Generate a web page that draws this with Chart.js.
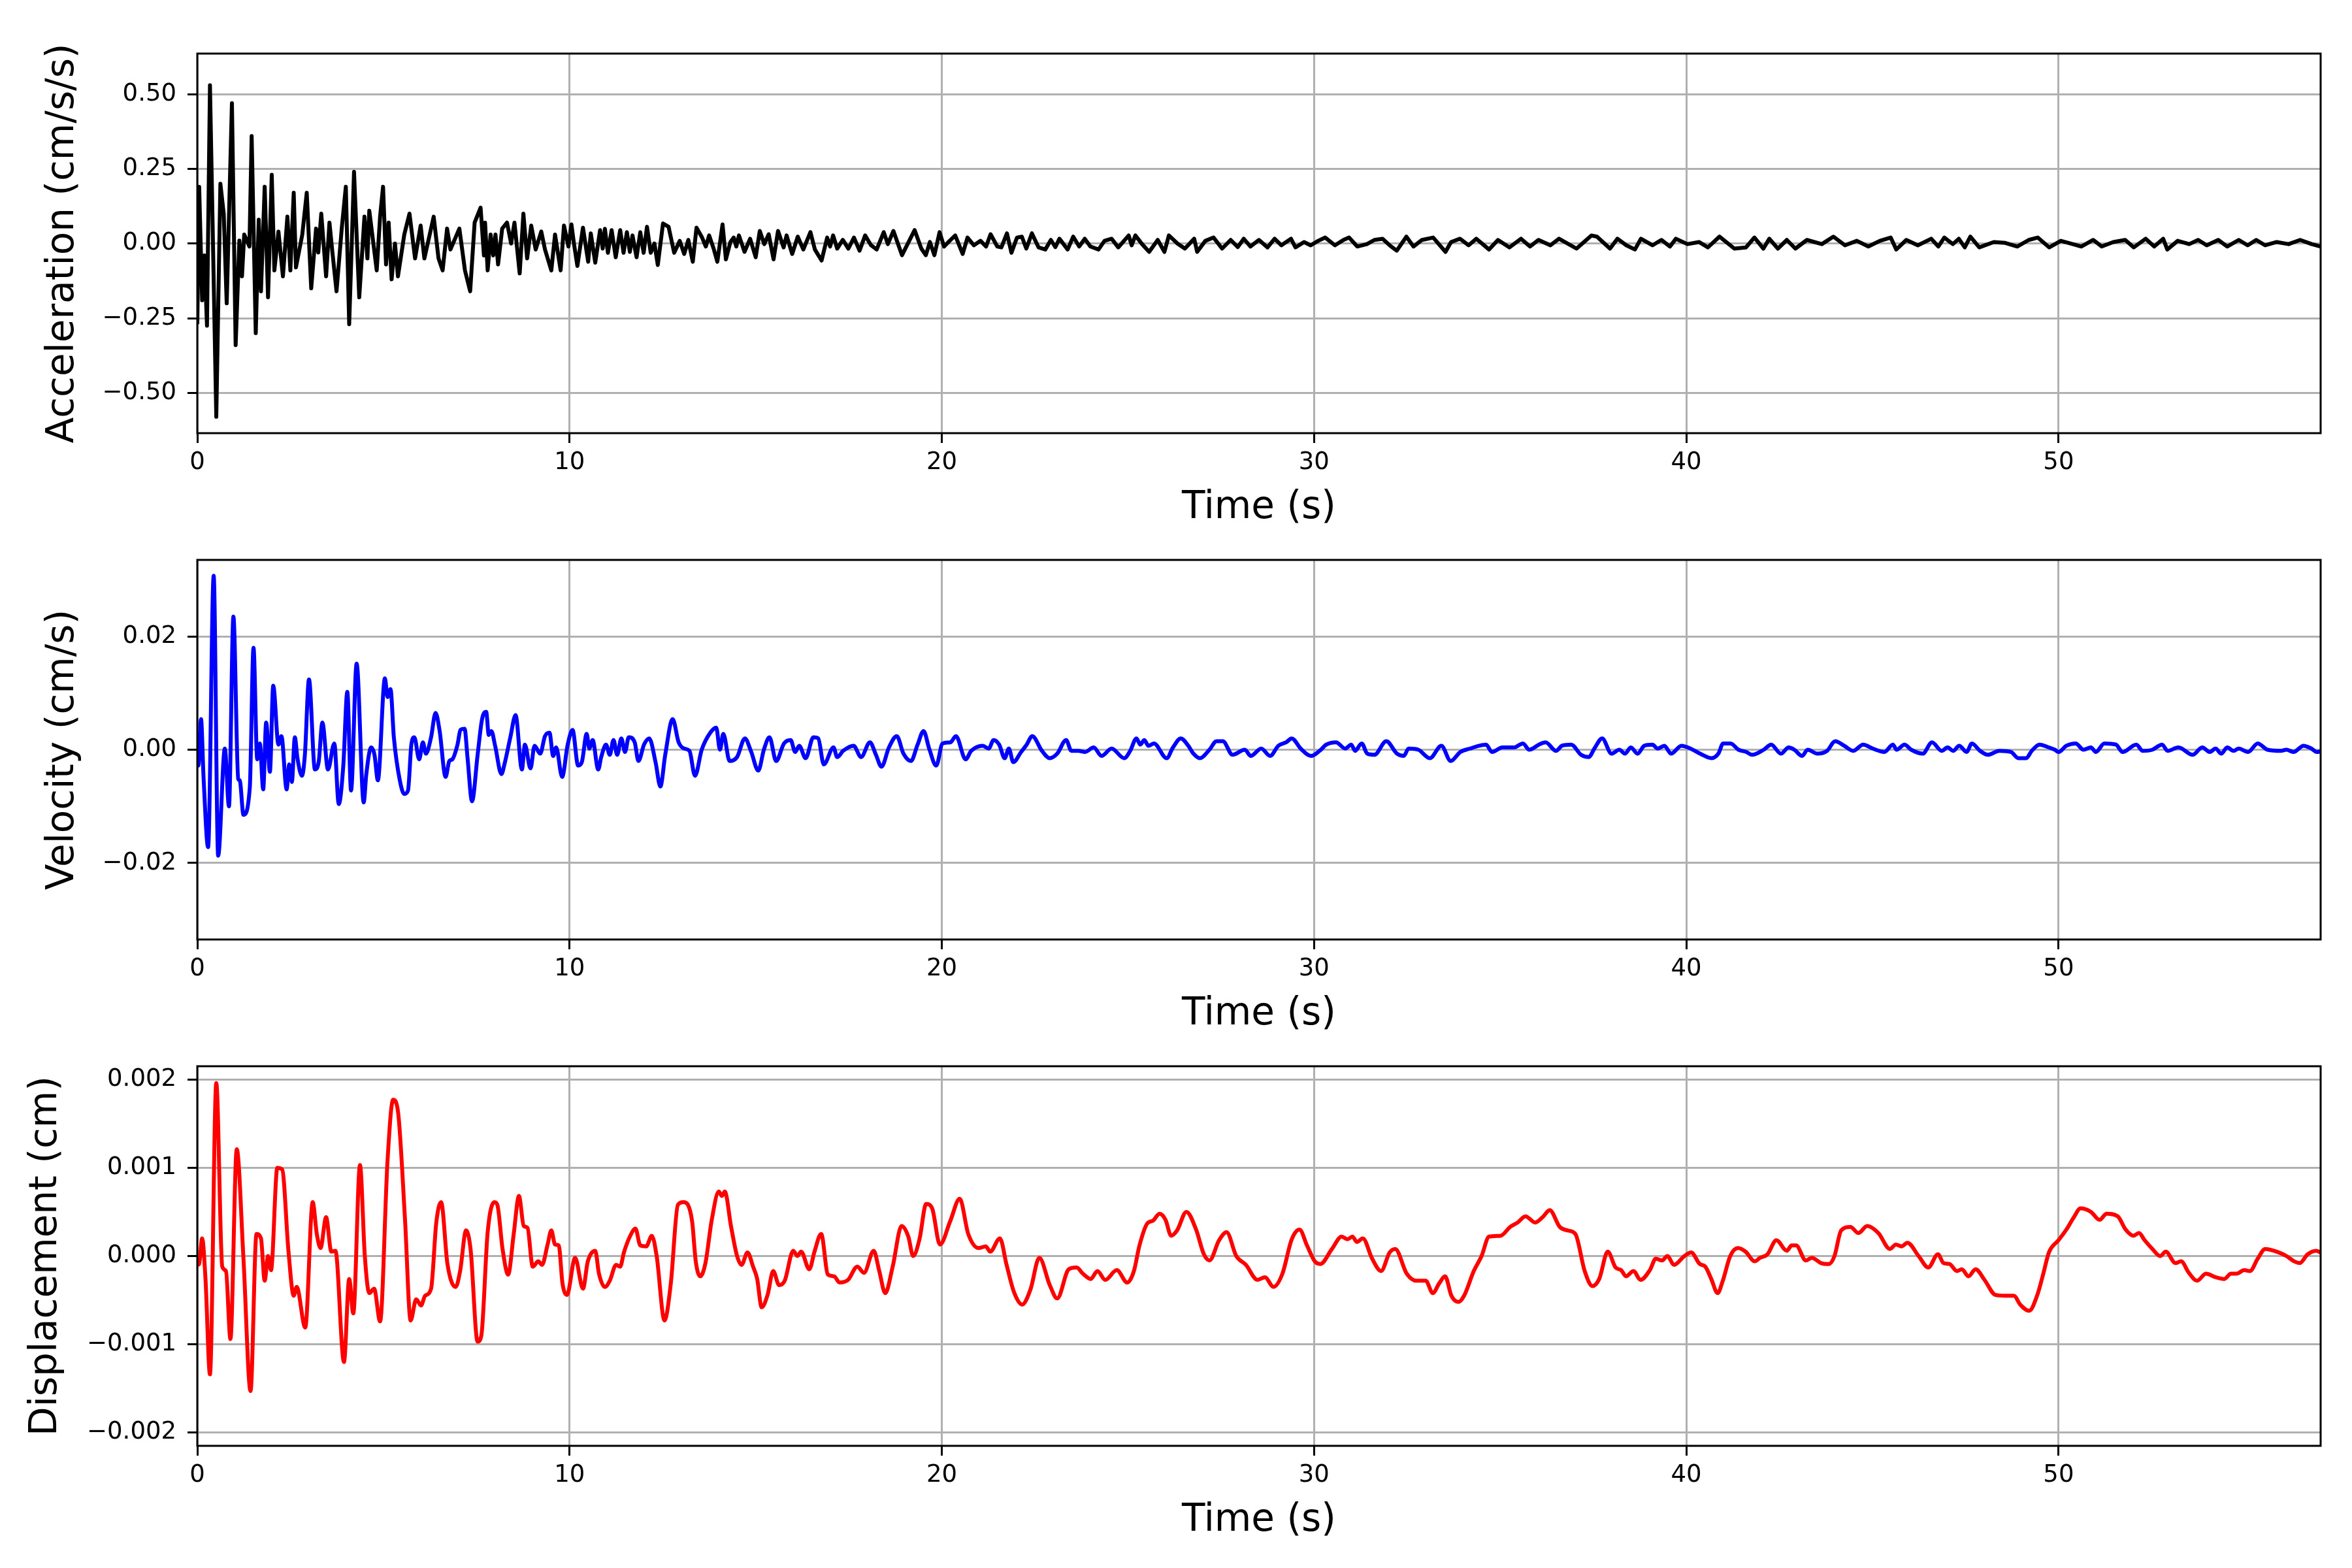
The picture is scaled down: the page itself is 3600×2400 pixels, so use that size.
<!DOCTYPE html>
<html>
<head>
<meta charset="utf-8">
<title>Acceleration / Velocity / Displacement</title>
<script src="https://cdn.jsdelivr.net/npm/chart.js@4.4.1/dist/chart.umd.min.js"></script>
<style>
  html, body { margin: 0; padding: 0; background: #fff; }
  #page { position: relative; width: 3600px; height: 2400px; background: #fff; overflow: hidden; }
  canvas { position: absolute; left: 0; width: 3600px; height: 813px; }
</style>
</head>
<body>
<div id="page">
  <canvas id="accChart" width="3600" height="813" style="top:0px"></canvas>
  <canvas id="velChart" width="3600" height="813" style="top:775px"></canvas>
  <canvas id="dispChart" width="3600" height="813" style="top:1550px"></canvas>
</div>
<script>
// time (s), value pairs
const accPoints = [
  [0.00,-0.27],[0.05,0.19],[0.13,-0.19],[0.19,-0.04],[0.26,-0.275],[0.34,0.53],[0.51,-0.58],[0.62,0.20],
  [0.71,0.10],[0.79,-0.20],[0.93,0.47],[1.03,-0.34],[1.13,0.01],[1.20,-0.11],[1.26,0.03],[1.40,-0.01],
  [1.46,0.36],[1.57,-0.30],[1.65,0.08],[1.71,-0.16],[1.81,0.19],[1.90,-0.18],[2.00,0.23],[2.07,-0.09],
  [2.18,0.04],[2.30,-0.11],[2.42,0.09],[2.50,-0.09],[2.59,0.17],[2.65,-0.08],[2.82,0.03],[2.94,0.17],
  [3.06,-0.15],[3.19,0.05],[3.25,-0.03],[3.33,0.10],[3.46,-0.11],[3.55,0.07],[3.63,-0.03],[3.74,-0.16],
  [3.88,0.05],[3.99,0.19],[4.08,-0.27],[4.21,0.24],[4.35,-0.18],[4.49,0.09],[4.57,-0.05],[4.62,0.11],
  [4.82,-0.09],[4.91,0.09],[4.99,0.19],[5.07,-0.07],[5.14,0.07],[5.22,-0.12],[5.31,0.00],[5.39,-0.11],
  [5.56,0.03],[5.70,0.10],[5.85,-0.05],[6.00,0.06],[6.10,-0.05],[6.35,0.09],[6.48,-0.05],[6.59,-0.09],
  [6.71,0.05],[6.80,-0.02],[7.04,0.05],[7.19,-0.09],[7.33,-0.16],[7.45,0.07],[7.61,0.12],[7.70,-0.04],
  [7.73,0.07],[7.80,-0.09],[7.88,0.03],[7.95,-0.04],[8.01,0.03],[8.08,-0.07],[8.19,0.05],[8.32,0.07],
  [8.43,0.00],[8.52,0.07],[8.66,-0.10],[8.76,0.10],[8.86,-0.05],[8.97,0.06],[9.09,-0.02],[9.24,0.04],
  [9.34,-0.02],[9.51,-0.09],[9.61,0.03],[9.76,-0.09],[9.85,0.06],[9.97,-0.01],
  [10.05,0.064],[10.12,-0.002],[10.21,-0.075],[10.36,0.053],[10.50,-0.061],[10.57,0.034],[10.69,-0.064],
  [10.82,0.045],[10.89,-0.017],[10.95,0.049],[11.03,-0.031],[11.13,0.045],[11.24,-0.046],[11.36,0.045],
  [11.45,-0.031],[11.54,0.038],[11.62,-0.028],[11.69,0.027],[11.80,-0.046],[11.90,0.038],[11.99,-0.031],
  [12.08,0.056],[12.18,-0.031],[12.28,0.0],[12.37,-0.072],[12.51,0.067],[12.66,0.056],[12.81,-0.031],
  [12.96,0.009],[13.08,-0.035],[13.19,0.012],[13.31,-0.061],[13.41,0.053],[13.56,0.02],[13.66,-0.01],
  [13.75,0.027],[13.87,-0.017],[13.97,-0.061],[14.11,0.064],[14.20,-0.053],[14.32,0.005],[14.41,0.02],
  [14.48,-0.01],[14.55,0.027],[14.70,-0.028],[14.85,0.016],[15.00,-0.046],[15.11,0.042],[15.23,-0.002],
  [15.35,0.031],[15.48,-0.053],[15.60,0.042],[15.75,-0.013],[15.83,0.027],[15.98,-0.035],[16.13,0.023],
  [16.28,-0.02],[16.47,0.038],[16.59,-0.02],[16.77,-0.057],[16.92,0.02],[17.00,-0.01],[17.08,0.027],
  [17.19,-0.017],[17.34,0.012],[17.49,-0.017],[17.64,0.02],[17.79,-0.024],[17.94,0.027],[18.10,-0.006],
  [18.25,-0.02],[18.44,0.038],[18.55,-0.002],[18.70,0.042],[18.93,-0.039],[19.08,-0.002],[19.27,0.045],
  [19.45,-0.017],[19.57,-0.039],[19.68,0.005],[19.80,-0.039],[19.94,0.038],[20.06,-0.01],[20.21,0.009],
  [20.36,0.027],[20.56,-0.035],[20.69,0.02],[20.86,-0.006],[21.04,0.009],[21.19,-0.01],[21.31,0.031],
  [21.49,-0.01],[21.60,-0.013],[21.75,0.034],[21.87,-0.031],[22.02,0.02],[22.15,0.023],[22.27,-0.017],
  [22.42,0.034],[22.60,-0.013],[22.78,-0.02],[22.93,0.012],[23.05,-0.012],[23.16,0.016],[23.38,-0.02],
  [23.53,0.023],[23.69,-0.01],[23.84,0.016],[23.99,-0.01],[24.21,-0.02],[24.37,0.009],[24.56,0.016],
  [24.74,-0.013],[25.02,0.027],[25.10,-0.006],[25.20,0.027],[25.38,-0.002],[25.57,-0.028],[25.80,0.012],
  [25.98,-0.028],[26.10,0.027],[26.33,0.0],[26.53,-0.017],[26.78,0.016],[26.86,-0.028],[27.08,0.009],
  [27.30,0.02],[27.53,-0.017],[27.76,0.012],[27.95,-0.012],[28.11,0.016],[28.29,-0.01],[28.52,0.012],
  [28.75,-0.013],[28.94,0.016],[29.12,-0.006],[29.38,0.016],[29.50,-0.013],[29.73,0.005],[29.91,-0.006],
  [30.11,0.009],[30.30,0.02],[30.56,-0.006],[30.79,0.012],[30.94,0.02],[31.16,-0.01],[31.42,-0.002],
  [31.62,0.012],[31.84,0.016],[32.05,-0.008],[32.22,-0.024],[32.48,0.023],[32.67,-0.01],[32.90,0.012],
  [33.20,0.02],[33.53,-0.028],[33.68,0.005],[33.92,0.016],[34.15,-0.006],[34.36,0.016],[34.70,-0.02],
  [34.94,0.012],[35.25,-0.013],[35.56,0.016],[35.80,-0.01],[36.03,0.012],[36.35,-0.006],[36.58,0.016],
  [37.05,-0.017],[37.45,0.027],[37.60,0.023],[37.95,-0.017],[38.15,0.016],[38.39,-0.006],[38.62,-0.02],
  [38.78,0.016],[39.09,-0.006],[39.33,0.012],[39.56,-0.01],[39.72,0.016],[40.03,-0.002],[40.34,0.005],
  [40.58,-0.013],[40.89,0.023],[41.29,-0.017],[41.60,-0.013],[41.83,0.02],[42.07,-0.017],[42.23,0.016],
  [42.46,-0.017],[42.70,0.012],[42.93,-0.017],[43.24,0.012],[43.64,-0.002],[43.95,0.023],[44.26,-0.006],
  [44.58,0.009],[44.89,-0.01],[45.20,0.009],[45.49,0.02],[45.64,-0.02],[45.91,0.012],[46.22,-0.006],
  [46.58,0.016],[46.77,-0.01],[46.93,0.02],[47.16,-0.002],[47.32,0.016],[47.48,-0.013],[47.63,0.023],
  [47.87,-0.013],[48.26,0.005],[48.57,0.002],[48.89,-0.01],[49.20,0.012],[49.44,0.02],[49.75,-0.013],
  [50.06,0.009],[50.38,-0.002],[50.61,-0.01],[50.93,0.012],[51.16,-0.01],[51.47,0.005],[51.79,0.012],
  [52.02,-0.013],[52.34,0.016],[52.57,-0.01],[52.81,0.016],[52.92,-0.02],[53.20,0.009],[53.51,-0.002],
  [53.75,0.012],[53.98,-0.006],[54.29,0.012],[54.53,-0.01],[54.84,0.012],[55.08,-0.006],[55.31,0.012],
  [55.55,-0.006],[55.86,0.005],[56.18,-0.002],[56.49,0.012],[56.80,-0.002],[57.04,-0.01]
];

const velPoints = [
  [0.00,0.003],[0.03,-0.0028],[0.10,0.0054],[0.17,-0.0052],[0.29,-0.0172],[0.44,0.0307],[0.56,-0.0187],
  [0.74,0.0002],[0.85,-0.0100],[0.97,0.0235],[1.10,-0.0052],[1.14,-0.0054],[1.24,-0.0115],[1.41,-0.0067],
  [1.51,0.0180],[1.61,-0.0017],[1.68,0.0011],[1.77,-0.0070],[1.85,0.0048],[1.95,-0.0039],[2.04,0.0113],
  [2.18,0.0009],[2.26,0.0024],[2.40,-0.0070],[2.47,-0.0026],[2.54,-0.0057],[2.62,0.0022],[2.69,-0.0015],
  [2.81,-0.0046],[2.89,-0.0009],[3.00,0.0124],[3.16,-0.0035],[3.26,-0.0022],[3.36,0.0048],[3.51,-0.0035],
  [3.68,0.0011],[3.80,-0.0096],[3.92,-0.0030],[4.03,0.0102],[4.13,-0.0072],[4.28,0.0152],[4.47,-0.0093],
  [4.54,-0.0043],[4.67,0.0004],[4.76,-0.0009],[4.85,-0.0054],[5.04,0.0126],[5.11,0.0093],[5.19,0.0107],
  [5.28,0.0022],[5.44,-0.0054],[5.56,-0.0078],[5.66,-0.0072],[5.75,0.0009],[5.83,0.0022],[5.96,-0.0017],
  [6.06,0.0013],[6.14,-0.0007],[6.28,0.0022],[6.40,0.0065],[6.51,0.0033],[6.67,-0.0048],[6.77,-0.0020],
  [6.85,-0.0017],[6.99,0.0009],[7.07,0.0035],[7.18,0.0037],[7.26,-0.0015],[7.38,-0.0091],[7.53,-0.0009],
  [7.65,0.0054],[7.76,0.0067],[7.83,0.0026],[7.90,0.0033],[8.00,0.0007],[8.17,-0.0043],[8.25,-0.0026],
  [8.41,0.0022],[8.55,0.0061],[8.72,-0.0035],[8.80,0.0009],[8.95,-0.0033],[9.06,0.0007],[9.21,-0.0007],
  [9.34,0.0024],[9.46,0.0030],[9.56,-0.0011],[9.64,0.0004],[9.80,-0.0048],[9.95,0.0009],
  [10.08,0.0035],[10.23,-0.0028],[10.33,-0.0022],[10.46,0.0028],[10.53,0.0002],[10.62,0.0017],
  [10.77,-0.0035],[10.85,-0.0013],[10.98,0.0009],[11.08,-0.0009],[11.18,0.0017],[11.28,-0.0009],
  [11.39,0.002],[11.49,-0.0004],[11.59,0.0022],[11.75,0.0013],[11.85,-0.002],[12.00,0.0009],[12.14,0.002],
  [12.31,-0.0022],[12.44,-0.0065],[12.57,-0.0009],[12.77,0.0054],[12.93,0.0013],[13.08,0.0002],
  [13.22,-0.0002],[13.37,-0.0046],[13.55,0.0],[13.78,0.003],[13.94,0.0039],[14.04,0.0],[14.13,0.0028],
  [14.30,-0.002],[14.50,-0.0013],[14.71,0.002],[14.88,-0.0004],[15.07,-0.0037],[15.22,0.0],[15.37,0.0022],
  [15.55,-0.002],[15.76,0.0011],[15.94,0.0017],[16.06,-0.0004],[16.17,0.0007],[16.34,-0.0015],
  [16.55,0.0022],[16.68,0.002],[16.83,-0.0026],[17.09,0.0004],[17.19,-0.0013],[17.35,-0.0002],
  [17.63,0.0007],[17.83,-0.0013],[18.07,0.0013],[18.23,-0.0009],[18.38,-0.003],[18.58,0.0004],
  [18.79,0.0024],[18.97,-0.0007],[19.17,-0.002],[19.35,0.0009],[19.51,0.0033],[19.66,0.0002],
  [19.85,-0.0028],[20.02,0.0011],[20.23,0.0013],[20.38,0.0024],[20.64,-0.0017],[20.79,-0.0002],
  [21.10,0.0007],[21.26,0.0002],[21.39,0.0017],[21.54,0.0009],[21.69,-0.0015],[21.80,0.0002],
  [21.92,-0.0022],[22.13,-0.0004],[22.28,0.0009],[22.43,0.0024],[22.69,-0.0002],[22.90,-0.0015],
  [23.10,-0.0007],[23.34,0.0017],[23.48,-0.0002],[23.67,-0.0002],[23.85,-0.0004],[24.08,0.0004],
  [24.29,-0.0011],[24.56,0.0002],[24.90,-0.0015],[25.06,-0.0002],[25.23,0.002],[25.33,0.0009],
  [25.44,0.0017],[25.55,0.0007],[25.70,0.0011],
  [26.04,-0.0015],[26.21,0.0004],[26.42,0.002],[26.62,0.0007],[26.76,-0.0007],[26.93,-0.0015],
  [27.19,0.0],[27.38,0.0015],[27.55,0.0015],[27.81,-0.0009],[28.14,0.0],[28.30,-0.0011],[28.58,0.0002],
  [28.82,-0.0011],[29.04,0.0007],[29.25,0.0013],[29.40,0.002],[29.64,0.0002],[29.92,-0.0011],
  [30.15,-0.0002],[30.33,0.0009],[30.59,0.0013],[30.84,0.0002],[31.00,0.0009],[31.10,-0.0002],
  [31.28,0.0011],[31.43,-0.0007],[31.62,-0.0009],[31.94,0.0015],[32.23,-0.0007],[32.41,-0.0011],
  [32.54,0.0002],[32.80,0.0],[33.11,-0.0015],[33.42,0.0007],[33.67,-0.002],[33.93,-0.0004],[34.19,0.0002],
  [34.44,0.0007],[34.62,0.0009],[34.78,-0.0004],[35.06,0.0004],[35.37,0.0004],[35.61,0.0011],[35.78,0.0],
  [36.04,0.0009],[36.22,0.0013],[36.50,-0.0002],[36.66,0.0007],[36.91,0.0009],[37.17,-0.0009],
  [37.38,-0.0013],[37.53,0.0002],[37.74,0.002],[37.99,-0.0007],[38.20,0.0],[38.35,-0.0007],[38.51,0.0004],
  [38.69,-0.0007],[38.87,0.0007],[39.09,0.0009],[39.23,0.0002],[39.41,0.0007],[39.59,-0.0007],
  [39.87,0.0007],[40.11,0.0002],[40.37,-0.0007],[40.68,-0.0015],[40.86,-0.0007],[40.99,0.0011],
  [41.19,0.0011],[41.40,0.0],[41.61,-0.0004],[41.77,-0.0009],
  [42.08,0.0],[42.28,0.0009],[42.54,-0.0007],[42.75,0.0004],[42.90,0.0],[43.11,-0.0011],[43.26,0.0],
  [43.52,-0.0007],[43.78,-0.0002],[44.00,0.0015],[44.24,0.0007],[44.48,-0.0002],[44.75,0.0009],
  [45.01,0.0002],[45.32,-0.0004],[45.55,0.0009],[45.65,0.0],[45.86,0.0009],[46.04,0.0],[46.35,-0.0007],
  [46.60,0.0013],[46.86,-0.0002],[47.02,0.0004],[47.17,-0.0002],[47.33,0.0007],[47.53,-0.0004],
  [47.67,0.0011],[47.89,-0.0002],[48.10,-0.0009],[48.41,-0.0002],[48.72,-0.0004],[48.92,-0.0015],
  [49.13,-0.0015],[49.28,-0.0002],[49.49,0.0009],[49.74,0.0004],[49.90,0.0],[50.00,-0.0004],
  [50.21,0.0007],[50.46,0.0011],[50.67,0.0],[50.87,0.0004],[51.00,-0.0004],[51.23,0.0011],[51.54,0.0009],
  [51.72,-0.0004],[52.09,0.0009],[52.26,-0.0002],[52.52,0.0],[52.78,0.0009],[52.93,-0.0002],
  [53.22,0.0004],[53.60,-0.0009],[53.86,0.0004],[54.06,-0.0004],[54.22,0.0002],[54.37,-0.0007],
  [54.53,0.0004],[54.70,-0.0002],[54.84,0.0002],[55.09,-0.0004],[55.35,0.0011],[55.61,0.0],
  [55.97,-0.0002],[56.12,0.0],[56.31,-0.0004],[56.58,0.0007],[56.79,0.0002],[56.94,-0.0004],[57.04,-0.0003]
];

const dispPoints = [
  [0.00,-0.0001],[0.05,-0.00009],[0.13,0.0002],[0.22,-0.00026],[0.34,-0.00134],[0.51,0.00196],
  [0.67,-0.00012],[0.77,-0.00017],[0.89,-0.00094],[1.06,0.00121],[1.24,-0.00003],[1.43,-0.00153],
  [1.59,0.00025],[1.71,0.0002],[1.81,-0.00028],[1.90,0.0],[1.98,-0.00016],[2.15,0.001],[2.28,0.00098],
  [2.45,0.00005],[2.59,-0.00045],[2.67,-0.00035],[2.90,-0.00081],[3.10,0.00061],[3.21,0.00025],
  [3.31,0.00009],[3.46,0.00044],[3.60,0.00005],[3.71,0.00006],[3.94,-0.0012],[4.08,-0.00026],
  [4.19,-0.00065],[4.37,0.00103],[4.50,0.0],[4.62,-0.00042],[4.75,-0.00037],[4.91,-0.00074],
  [5.11,0.00108],[5.26,0.00177],[5.39,0.00164],[5.58,0.00041],[5.73,-0.00073],[5.88,-0.00049],
  [6.01,-0.00056],[6.12,-0.00045],[6.28,-0.00037],[6.42,0.00038],[6.55,0.00061],[6.72,-0.00009],
  [6.94,-0.00035],[7.06,-0.00017],[7.22,0.00029],[7.34,0.00008],[7.53,-0.00097],[7.63,-0.0009],
  [7.80,0.00027],[7.98,0.00061],[8.06,0.00058],[8.20,0.00008],[8.35,-0.00021],[8.50,0.00025],
  [8.64,0.00068],[8.77,0.00034],[8.87,0.00032],[9.01,-0.00012],[9.16,-0.00006],[9.26,-0.0001],
  [9.41,0.00013],[9.51,0.00029],[9.61,0.00013],[9.71,0.00012],[9.81,-0.00031],[9.93,-0.00044],
  [10.15,-0.00002],[10.36,-0.00037],[10.49,-0.00006],[10.69,0.00006],[10.79,-0.0002],[10.95,-0.00035],
  [11.08,-0.00028],[11.25,-0.0001],[11.36,-0.00012],[11.46,0.00004],[11.62,0.00022],[11.77,0.00031],
  [11.90,0.00012],[12.06,0.00011],[12.21,0.00023],[12.34,0.0],[12.55,-0.00073],[12.72,-0.00031],
  [12.91,0.00058],[13.06,0.00061],[13.29,0.0004],[13.39,-0.00006],[13.51,-0.00023],[13.65,-0.00008],
  [13.82,0.00041],[14.01,0.00073],[14.09,0.00068],[14.17,0.00073],[14.34,0.00033],[14.50,0.0],
  [14.62,-0.0001],[14.78,0.00004],[14.93,-0.00012],[15.04,-0.00026],[15.16,-0.00058],[15.32,-0.00044],
  [15.47,-0.00017],[15.63,-0.00033],[15.78,-0.00028],[16.01,0.00006],[16.12,0.0],[16.22,0.00005],
  [16.44,-0.00015],[16.58,0.00005],[16.76,0.00025],[16.94,-0.00021],[17.11,-0.00023],[17.25,-0.0003],
  [17.48,-0.00027],[17.73,-0.00012],[17.91,-0.00019],[18.17,0.00006],[18.32,-0.00017],[18.48,-0.00042],
  [18.68,-0.00012],[18.92,0.00034],[19.10,0.00022],[19.23,0.0],[19.40,0.00019],[19.58,0.00059],
  [19.74,0.00054],[19.95,0.00013],[20.23,0.0004],[20.48,0.00065],[20.71,0.00025],[20.99,0.00009],
  [21.18,0.00011],[21.30,0.00005],[21.56,0.0002],[21.74,-0.0001],[21.94,-0.00041],[22.16,-0.00055],
  [22.38,-0.00038],[22.62,-0.00002],[22.90,-0.00033],[23.10,-0.00048],[23.41,-0.00015],[23.62,-0.00013],
  [23.79,-0.0002],[24.00,-0.00026],[24.18,-0.00017],[24.39,-0.00027],[24.70,-0.00016],[24.98,-0.0003],
  [25.16,-0.00017],[25.31,0.00012],[25.52,0.00037],[25.67,0.0004],
  [25.85,0.00048],[26.01,0.00041],[26.16,0.00023],[26.32,0.00029],[26.57,0.0005],[26.83,0.0003],
  [27.04,0.00002],[27.19,-0.00005],[27.45,0.00018],[27.65,0.00027],[27.91,0.0],[28.17,-0.0001],
  [28.48,-0.00027],[28.68,-0.00024],[28.91,-0.00035],[29.15,-0.0002],[29.40,0.00019],[29.61,0.0003],
  [29.81,0.00012],[30.02,-0.00006],[30.17,-0.00009],[30.48,0.00008],[30.74,0.00022],[30.90,0.00019],
  [31.03,0.00022],[31.15,0.00016],[31.31,0.0002],[31.56,-0.00003],[31.80,-0.00017],[32.03,0.00004],
  [32.18,0.00008],[32.49,-0.0002],[32.75,-0.00028],[33.00,-0.00028],[33.19,-0.00042],[33.36,-0.00031],
  [33.52,-0.00023],[33.69,-0.00045],[33.88,-0.00052],[34.03,-0.00045],[34.29,-0.00017],[34.50,0.0],
  [34.70,0.00022],[35.01,0.00023],[35.27,0.00033],[35.47,0.00038],[35.68,0.00045],[35.94,0.00038],
  [36.14,0.00044],[36.33,0.00052],[36.60,0.00033],[36.81,0.00029],[37.02,0.00025],[37.27,-0.00017],
  [37.48,-0.00034],[37.66,-0.00026],[37.89,0.00005],[38.10,-0.00013],[38.25,-0.00016],[38.38,-0.00023],
  [38.58,-0.00017],[38.77,-0.00027],[39.02,-0.00016],[39.18,-0.00003],[39.35,-0.00005],[39.49,0.0],
  [39.67,-0.0001],[39.95,0.0],[40.13,0.00004],[40.36,-0.00009],[40.51,-0.00012],[40.67,-0.00026],
  [40.84,-0.00042],[40.98,-0.00028],[41.18,0.0],[41.39,0.00009],[41.59,0.00005],
  [41.84,-0.00006],[41.98,-0.00002],[42.18,0.00002],[42.42,0.00018],[42.70,0.00006],[42.83,0.00012],
  [42.95,0.00012],[43.21,-0.00005],[43.37,-0.00002],[43.62,-0.00008],[43.83,-0.00009],[43.98,0.0],
  [44.16,0.00029],[44.41,0.00033],[44.62,0.00026],[44.86,0.00034],[45.16,0.00026],[45.47,0.00008],
  [45.63,0.00013],[45.78,0.00011],[45.94,0.00015],[46.24,0.0],[46.50,-0.00013],[46.76,0.00002],
  [46.91,-0.00008],[47.07,-0.00009],[47.27,-0.00017],[47.40,-0.00015],[47.58,-0.00023],[47.77,-0.00015],
  [48.01,-0.00027],[48.30,-0.00044],[48.56,-0.00045],[48.80,-0.00045],[48.97,-0.00055],[49.21,-0.00062],
  [49.43,-0.00044],[49.59,-0.0002],[49.74,0.00004],[50.00,0.00018],[50.21,0.0003],[50.41,0.00044],
  [50.59,0.00054],[50.87,0.0005],[51.10,0.00041],[51.29,0.00048],[51.59,0.00045],[51.80,0.0003],
  [52.01,0.00023],[52.16,0.00026],[52.31,0.00018],[52.52,0.00008],[52.73,0.0],[52.88,0.00005],
  [53.14,-0.00008],[53.29,-0.00006],[53.50,-0.00019],[53.72,-0.00028],[53.96,-0.0002],[54.22,-0.00024],
  [54.45,-0.00026],[54.63,-0.0002],[54.78,-0.0002],[54.99,-0.00016],[55.14,-0.00017],[55.35,-0.00003],
  [55.55,0.00008],[55.92,0.00004],[56.12,0.0],[56.33,-0.00006],[56.48,-0.00008],[56.69,0.00002],
  [56.92,0.00006],[57.04,0.00004]
];

// tick values
const timeTicks = [0, 10, 20, 30, 40, 50];
const accTicks = [-0.5, -0.25, 0, 0.25, 0.5];
const velTicks = [-0.02, 0, 0.02];
const dispTicks = [-0.002, -0.001, 0, 0.001, 0.002];

const timeMax = 57.04;

Chart.defaults.font.family = "'DejaVu Sans', sans-serif";
Chart.defaults.color = '#000';

// full box around the plot area
const framePlugin = {
  id: 'frame',
  afterDatasetsDraw(chart) {
    const a = chart.chartArea;
    const ctx = chart.ctx;
    ctx.save();
    ctx.strokeStyle = '#000';
    ctx.lineWidth = 3;
    ctx.strokeRect(a.left, a.top, a.right - a.left, a.bottom - a.top);
    ctx.restore();
  }
};

function fmt(v, decimals) {
  const s = Math.abs(v).toFixed(decimals);
  return (v < 0 && Number(s) !== 0 ? '\u2212' : '') + s;
}

function makeChart(id, points, color, yRange, yTicks, decimals, yLabel, titlePad, smooth) {
  return new Chart(document.getElementById(id), {
    type: 'line',
    data: {
      datasets: [{
        data: points.map(p => ({x: p[0], y: p[1]})),
        borderColor: color,
        borderWidth: 6,
        borderJoinStyle: 'round',
        pointRadius: 0,
        fill: false,
        tension: 0,
        cubicInterpolationMode: smooth ? 'monotone' : 'default'
      }]
    },
    options: {
      responsive: false,
      devicePixelRatio: 1,
      animation: false,
      layout: { padding: { top: 82, right: 48, left: 0, bottom: 0 } },
      plugins: { legend: { display: false }, tooltip: { enabled: false } },
      scales: {
        x: {
          type: 'linear',
          min: 0,
          max: timeMax,
          afterBuildTicks: s => { s.ticks = timeTicks.map(v => ({value: v})); },
          afterFit: s => { s.height = 150; },
          ticks: {
            font: { size: 37 },
            padding: 8,
            maxRotation: 0,
            callback: v => String(v)
          },
          grid: { color: '#b0b0b0', lineWidth: 3, tickColor: '#000', tickWidth: 3, tickLength: 15 },
          border: { display: false },
          title: { display: true, text: 'Time (s)', font: { size: 58 }, padding: { top: 0, bottom: 0 } }
        },
        y: {
          min: yRange[0],
          max: yRange[1],
          afterBuildTicks: s => { s.ticks = yTicks.map(v => ({value: v})); },
          afterFit: s => { s.width = 302; },
          ticks: {
            font: { size: 37 },
            padding: 17,
            callback: v => fmt(v, decimals)
          },
          grid: { color: '#b0b0b0', lineWidth: 3, tickColor: '#000', tickWidth: 3, tickLength: 15 },
          border: { display: false },
          title: { display: true, text: yLabel, font: { size: 58 }, padding: { top: titlePad, bottom: 0 } }
        }
      }
    },
    plugins: [framePlugin]
  });
}

makeChart('accChart', accPoints, '#000000', [-0.635, 0.636], accTicks, 2, 'Acceleration (cm/s/s)', 62, false);
makeChart('velChart', velPoints, '#0000ff', [-0.0335, 0.0335], velTicks, 2, 'Velocity (cm/s)', 62, true);
makeChart('dispChart', dispPoints, '#ff0000', [-0.00215, 0.00215], dispTicks, 3, 'Displacement (cm)', 36, true);
</script>
</body>
</html>
